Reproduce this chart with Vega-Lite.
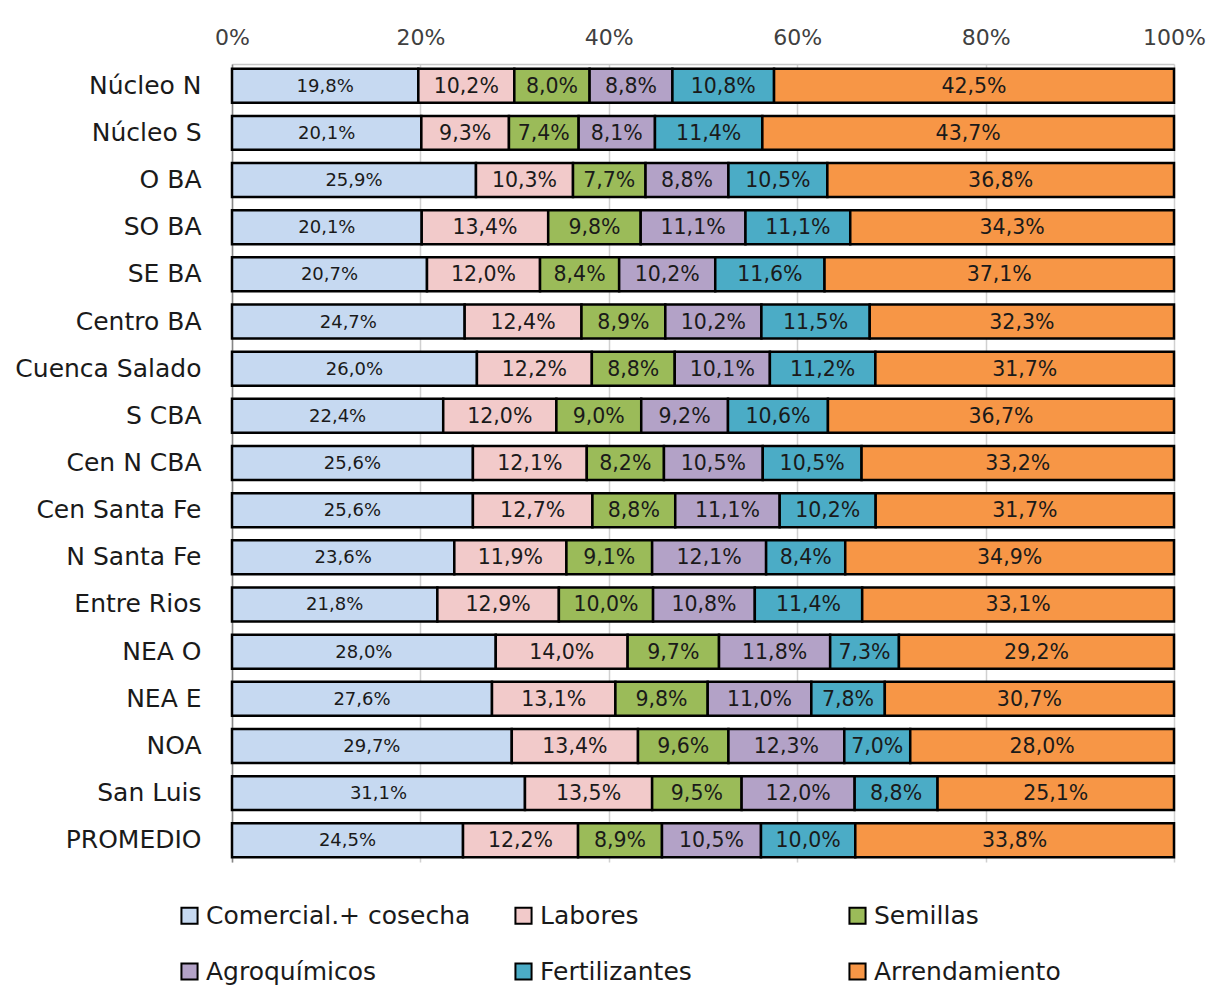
{
  "$schema": "https://vega.github.io/schema/vega-lite/v6.json",
  "width": 942,
  "height": 798,
  "autosize": {"type": "none"},
  "padding": {"left": 232, "top": 64, "right": 33, "bottom": 123},
  "background": "white",
  "config": {
    "locale": {"number": {"decimal": ",", "thousands": ".", "grouping": [3], "currency": ["", " €"]}},
    "font": "DejaVu Sans",
    "view": {"stroke": null}
  },
  "data": {"values": [
    {"r":"Núcleo N","c":"Comercial.+ cosecha","v":0.198},{"r":"Núcleo N","c":"Labores","v":0.102},{"r":"Núcleo N","c":"Semillas","v":0.080},{"r":"Núcleo N","c":"Agroquímicos","v":0.088},{"r":"Núcleo N","c":"Fertilizantes","v":0.108},{"r":"Núcleo N","c":"Arrendamiento","v":0.425},
    {"r":"Núcleo S","c":"Comercial.+ cosecha","v":0.201},{"r":"Núcleo S","c":"Labores","v":0.093},{"r":"Núcleo S","c":"Semillas","v":0.074},{"r":"Núcleo S","c":"Agroquímicos","v":0.081},{"r":"Núcleo S","c":"Fertilizantes","v":0.114},{"r":"Núcleo S","c":"Arrendamiento","v":0.437},
    {"r":"O BA","c":"Comercial.+ cosecha","v":0.259},{"r":"O BA","c":"Labores","v":0.103},{"r":"O BA","c":"Semillas","v":0.077},{"r":"O BA","c":"Agroquímicos","v":0.088},{"r":"O BA","c":"Fertilizantes","v":0.105},{"r":"O BA","c":"Arrendamiento","v":0.368},
    {"r":"SO BA","c":"Comercial.+ cosecha","v":0.201},{"r":"SO BA","c":"Labores","v":0.134},{"r":"SO BA","c":"Semillas","v":0.098},{"r":"SO BA","c":"Agroquímicos","v":0.111},{"r":"SO BA","c":"Fertilizantes","v":0.111},{"r":"SO BA","c":"Arrendamiento","v":0.343},
    {"r":"SE BA","c":"Comercial.+ cosecha","v":0.207},{"r":"SE BA","c":"Labores","v":0.120},{"r":"SE BA","c":"Semillas","v":0.084},{"r":"SE BA","c":"Agroquímicos","v":0.102},{"r":"SE BA","c":"Fertilizantes","v":0.116},{"r":"SE BA","c":"Arrendamiento","v":0.371},
    {"r":"Centro BA","c":"Comercial.+ cosecha","v":0.247},{"r":"Centro BA","c":"Labores","v":0.124},{"r":"Centro BA","c":"Semillas","v":0.089},{"r":"Centro BA","c":"Agroquímicos","v":0.102},{"r":"Centro BA","c":"Fertilizantes","v":0.115},{"r":"Centro BA","c":"Arrendamiento","v":0.323},
    {"r":"Cuenca Salado","c":"Comercial.+ cosecha","v":0.260},{"r":"Cuenca Salado","c":"Labores","v":0.122},{"r":"Cuenca Salado","c":"Semillas","v":0.088},{"r":"Cuenca Salado","c":"Agroquímicos","v":0.101},{"r":"Cuenca Salado","c":"Fertilizantes","v":0.112},{"r":"Cuenca Salado","c":"Arrendamiento","v":0.317},
    {"r":"S CBA","c":"Comercial.+ cosecha","v":0.224},{"r":"S CBA","c":"Labores","v":0.120},{"r":"S CBA","c":"Semillas","v":0.090},{"r":"S CBA","c":"Agroquímicos","v":0.092},{"r":"S CBA","c":"Fertilizantes","v":0.106},{"r":"S CBA","c":"Arrendamiento","v":0.367},
    {"r":"Cen N CBA","c":"Comercial.+ cosecha","v":0.256},{"r":"Cen N CBA","c":"Labores","v":0.121},{"r":"Cen N CBA","c":"Semillas","v":0.082},{"r":"Cen N CBA","c":"Agroquímicos","v":0.105},{"r":"Cen N CBA","c":"Fertilizantes","v":0.105},{"r":"Cen N CBA","c":"Arrendamiento","v":0.332},
    {"r":"Cen Santa Fe","c":"Comercial.+ cosecha","v":0.256},{"r":"Cen Santa Fe","c":"Labores","v":0.127},{"r":"Cen Santa Fe","c":"Semillas","v":0.088},{"r":"Cen Santa Fe","c":"Agroquímicos","v":0.111},{"r":"Cen Santa Fe","c":"Fertilizantes","v":0.102},{"r":"Cen Santa Fe","c":"Arrendamiento","v":0.317},
    {"r":"N Santa Fe","c":"Comercial.+ cosecha","v":0.236},{"r":"N Santa Fe","c":"Labores","v":0.119},{"r":"N Santa Fe","c":"Semillas","v":0.091},{"r":"N Santa Fe","c":"Agroquímicos","v":0.121},{"r":"N Santa Fe","c":"Fertilizantes","v":0.084},{"r":"N Santa Fe","c":"Arrendamiento","v":0.349},
    {"r":"Entre Rios","c":"Comercial.+ cosecha","v":0.218},{"r":"Entre Rios","c":"Labores","v":0.129},{"r":"Entre Rios","c":"Semillas","v":0.100},{"r":"Entre Rios","c":"Agroquímicos","v":0.108},{"r":"Entre Rios","c":"Fertilizantes","v":0.114},{"r":"Entre Rios","c":"Arrendamiento","v":0.331},
    {"r":"NEA O","c":"Comercial.+ cosecha","v":0.280},{"r":"NEA O","c":"Labores","v":0.140},{"r":"NEA O","c":"Semillas","v":0.097},{"r":"NEA O","c":"Agroquímicos","v":0.118},{"r":"NEA O","c":"Fertilizantes","v":0.073},{"r":"NEA O","c":"Arrendamiento","v":0.292},
    {"r":"NEA E","c":"Comercial.+ cosecha","v":0.276},{"r":"NEA E","c":"Labores","v":0.131},{"r":"NEA E","c":"Semillas","v":0.098},{"r":"NEA E","c":"Agroquímicos","v":0.110},{"r":"NEA E","c":"Fertilizantes","v":0.078},{"r":"NEA E","c":"Arrendamiento","v":0.307},
    {"r":"NOA","c":"Comercial.+ cosecha","v":0.297},{"r":"NOA","c":"Labores","v":0.134},{"r":"NOA","c":"Semillas","v":0.096},{"r":"NOA","c":"Agroquímicos","v":0.123},{"r":"NOA","c":"Fertilizantes","v":0.070},{"r":"NOA","c":"Arrendamiento","v":0.280},
    {"r":"San Luis","c":"Comercial.+ cosecha","v":0.311},{"r":"San Luis","c":"Labores","v":0.135},{"r":"San Luis","c":"Semillas","v":0.095},{"r":"San Luis","c":"Agroquímicos","v":0.120},{"r":"San Luis","c":"Fertilizantes","v":0.088},{"r":"San Luis","c":"Arrendamiento","v":0.251},
    {"r":"PROMEDIO","c":"Comercial.+ cosecha","v":0.245},{"r":"PROMEDIO","c":"Labores","v":0.122},{"r":"PROMEDIO","c":"Semillas","v":0.089},{"r":"PROMEDIO","c":"Agroquímicos","v":0.105},{"r":"PROMEDIO","c":"Fertilizantes","v":0.100},{"r":"PROMEDIO","c":"Arrendamiento","v":0.338}
  ]},
  "transform": [
    {"calculate": "indexof(['Comercial.+ cosecha','Labores','Semillas','Agroquímicos','Fertilizantes','Arrendamiento'], datum.c)", "as": "o"}
  ],
  "encoding": {
    "y": {
      "field": "r", "type": "nominal", "sort": null, "title": null,
      "scale": {"paddingInner": 0.28, "paddingOuter": 0.1},
      "axis": {"domainColor": "#868686", "domainWidth": 1.5, "ticks": false, "labelFontSize": 25, "labelColor": "#1a1a1a", "labelPadding": 31, "labelFont": "DejaVu Sans", "labelLimit": 400}
    },
    "order": {"field": "o", "type": "quantitative"}
  },
  "layer": [
    {
      "mark": {"type": "bar", "stroke": "black", "strokeWidth": 2.5},
      "encoding": {
        "x": {
          "field": "v", "type": "quantitative", "stack": "normalize", "title": null,
          "scale": {"domain": [0, 1], "nice": false},
          "axis": {"orient": "top", "format": ".0%", "values": [0, 0.2, 0.4, 0.6, 0.8, 1], "ticks": false, "labelFlush": false, "domainColor": "#c8c8c8", "domainWidth": 1.5, "gridColor": "#d0d0d0", "gridWidth": 1.5, "labelFontSize": 22, "labelColor": "#404040", "labelPadding": 15, "labelFont": "DejaVu Sans"}
        },
        "color": {
          "field": "c", "type": "nominal", "title": null,
          "sort": ["Comercial.+ cosecha", "Labores", "Semillas", "Agroquímicos", "Fertilizantes", "Arrendamiento"],
          "scale": {
            "domain": ["Comercial.+ cosecha", "Labores", "Semillas", "Agroquímicos", "Fertilizantes", "Arrendamiento"],
            "range": ["#C6D9F1", "#F2CACA", "#9BBB59", "#B3A2C7", "#4BACC6", "#F79646"]
          },
          "legend": {
            "orient": "none", "legendX": -55, "legendY": 839, "direction": "horizontal", "columns": 3,
            "symbolType": "square", "symbolSize": 260, "symbolStrokeColor": "black", "symbolStrokeWidth": 2, "symbolOffset": 0,
            "labelFontSize": 25, "labelColor": "#1a1a1a", "labelFont": "DejaVu Sans", "labelOffset": 4, "labelLimit": 400,
            "columnPadding": 40, "rowPadding": 30, "gridAlign": "all"
          }
        }
      }
    },
    {
      "mark": {"type": "text", "color": "#1a1a1a", "font": "DejaVu Sans", "baseline": "middle", "align": "center", "dy": 1},
      "encoding": {
        "x": {"field": "v", "type": "quantitative", "stack": "normalize", "bandPosition": 0.5},
        "text": {"field": "v", "type": "quantitative", "format": ".1%"},
        "size": {"condition": {"test": "datum.c === 'Comercial.+ cosecha'", "value": 18}, "value": 20.5}
      }
    }
  ]
}
